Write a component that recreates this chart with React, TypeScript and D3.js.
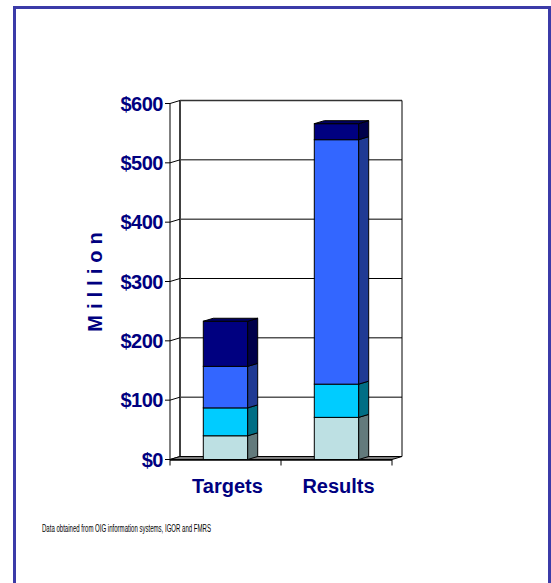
import React from "react";
import * as d3 from "d3";

const categories = ["Targets", "Results"];
const layer1 = [40, 71];
const layer2 = [47, 56];
const layer3 = [70, 412];
const layer4 = [76, 27];
const yTicks = [0, 100, 200, 300, 400, 500, 600];
const yTickLabels = ["$0", "$100", "$200", "$300", "$400", "$500", "$600"];
const axisTitle = "Million";
const footnote = "Data obtained from OIG information systems, IGOR and FMRS";

const frontColors = ["#bde0e3", "#00ccff", "#3366ff", "#000080"];
const sideColors = ["#637a7c", "#006e85", "#1f3a94", "#00004a"];
const topColors = ["#9fc0c3", "#00a8d6", "#2850d0", "#000060"];

const FONT = "'Liberation Sans', Arial, sans-serif";
const NAVY = "#000080";

export default function App() {
  const dx = 10;
  const dy = -3;
  const x0 = 170;
  const x1 = 392;
  const y = d3.scaleLinear().domain([0, 600]).range([459.5, 103.5]);
  const x = d3
    .scaleBand<string>()
    .domain(categories)
    .range([x0, x1])
    .paddingInner(0.6)
    .paddingOuter(0.3);

  const rows = categories.map((c, i) => ({
    cat: c,
    a: layer1[i],
    b: layer2[i],
    c: layer3[i],
    d: layer4[i],
  }));
  const stack = d3.stack<any>().keys(["a", "b", "c", "d"]);
  const series = stack(rows);

  const bw = x.bandwidth();
  const step = x.step();
  const boundaries = [x0, x0 + step, x1];
  const yBack = (v: number) => y(v) + dy;

  return (
    <svg
      width={551}
      height={583}
      style={{ position: "absolute", left: 0, top: 0, background: "#fff" }}
    >
      <rect x={0} y={0} width={551} height={583} fill="#fff" />
      {/* frame */}
      <rect
        x={14.5}
        y={7.5}
        width={535}
        height={600}
        fill="none"
        stroke="#3b3ba8"
        strokeWidth={3}
      />
      {/* back wall */}
      <rect
        x={x0 + dx}
        y={yBack(600)}
        width={x1 - x0}
        height={yBack(0) - yBack(600)}
        fill="#fff"
        stroke="none"
      />
      {yTicks.map((t) => (
        <line
          key={"g" + t}
          x1={x0 + dx}
          x2={x1 + dx}
          y1={yBack(t)}
          y2={yBack(t)}
          stroke={t === 600 ? "#333" : "#000"}
          strokeWidth={t === 600 ? 1.5 : 1}
        />
      ))}
      <line
        x1={x1 + dx}
        x2={x1 + dx}
        y1={yBack(600)}
        y2={yBack(0)}
        stroke="#000"
        strokeWidth={1}
      />
      <line
        x1={x0 + dx}
        x2={x0 + dx}
        y1={yBack(600)}
        y2={yBack(0)}
        stroke="#404040"
        strokeWidth={2}
      />
      {/* side wall diagonals */}
      {yTicks.map((t) => (
        <line
          key={"d" + t}
          x1={x0}
          y1={y(t)}
          x2={x0 + dx}
          y2={yBack(t)}
          stroke="#000"
          strokeWidth={1}
        />
      ))}
      {/* floor */}
      <path
        d={`M${x0},${y(0)}L${x1},${y(0)}L${x1 + dx},${yBack(0)}L${x0 + dx},${yBack(0)}Z`}
        fill="#7f7f7f"
        stroke="#000"
        strokeWidth={1}
      />
      {/* front axis */}
      <line x1={x0} x2={x0} y1={y(600)} y2={y(0)} stroke="#000" strokeWidth={1} />
      {yTicks.map((t) => (
        <line
          key={"t" + t}
          x1={x0 - 5}
          x2={x0}
          y1={y(t)}
          y2={y(t)}
          stroke="#000"
          strokeWidth={1}
        />
      ))}
      <line x1={x0} x2={x1} y1={y(0) + 0.5} y2={y(0) + 0.5} stroke="#000" strokeWidth={1.5} />
      {boundaries.map((b, i) => (
        <line
          key={"xt" + i}
          x1={b}
          x2={b}
          y1={y(0)}
          y2={y(0) + 6}
          stroke="#000"
          strokeWidth={1}
        />
      ))}
      {/* bars */}
      {categories.map((c, ci) => {
        const bx = x(c) as number;
        return (
          <g key={c}>
            {series.map((s, si) => {
              const v0 = s[ci][0];
              const v1 = s[ci][1];
              const yt = y(v1);
              const yb = y(v0);
              const isTop = si === series.length - 1;
              return (
                <g key={si}>
                  <rect
                    x={bx}
                    y={yt}
                    width={bw}
                    height={yb - yt}
                    fill={frontColors[si]}
                    stroke="#000"
                    strokeWidth={1}
                  />
                  <path
                    d={`M${bx + bw},${yt}L${bx + bw + dx},${yt + dy}L${bx + bw + dx},${yb + dy}L${bx + bw},${yb}Z`}
                    fill={sideColors[si]}
                    stroke="#000"
                    strokeWidth={1}
                  />
                  {isTop && (
                    <path
                      d={`M${bx},${yt}L${bx + dx},${yt + dy}L${bx + bw + dx},${yt + dy}L${bx + bw},${yt}Z`}
                      fill={topColors[si]}
                      stroke="#000"
                      strokeWidth={1}
                    />
                  )}
                </g>
              );
            })}
          </g>
        );
      })}
      {/* y labels */}
      {yTicks.map((t, i) => (
        <text
          key={"l" + t}
          x={x0 - 7}
          y={y(t) + 7}
          textAnchor="end"
          fontFamily={FONT}
          fontWeight="bold"
          fontSize={20}
          fill={NAVY}
          letterSpacing={-0.5}
        >
          {yTickLabels[i]}
        </text>
      ))}
      {/* axis title */}
      <text
        transform="translate(102,279) rotate(-90)"
        textAnchor="middle"
        fontFamily={FONT}
        fontWeight="bold"
        fontSize={20}
        fill={NAVY}
        letterSpacing={6}
      >
        {axisTitle}
      </text>
      {/* category labels */}
      {categories.map((c) => (
        <text
          key={"c" + c}
          x={(x(c) as number) + bw / 2 + 2}
          y={493}
          textAnchor="middle"
          fontFamily={FONT}
          fontWeight="bold"
          fontSize={20}
          fill={NAVY}
        >
          {c}
        </text>
      ))}
      {/* footnote */}
      <text
        x={42}
        y={532}
        fontFamily={FONT}
        fontSize={10}
        fill="#000"
        textLength={169}
        lengthAdjust="spacingAndGlyphs"
      >
        {footnote}
      </text>
    </svg>
  );
}
